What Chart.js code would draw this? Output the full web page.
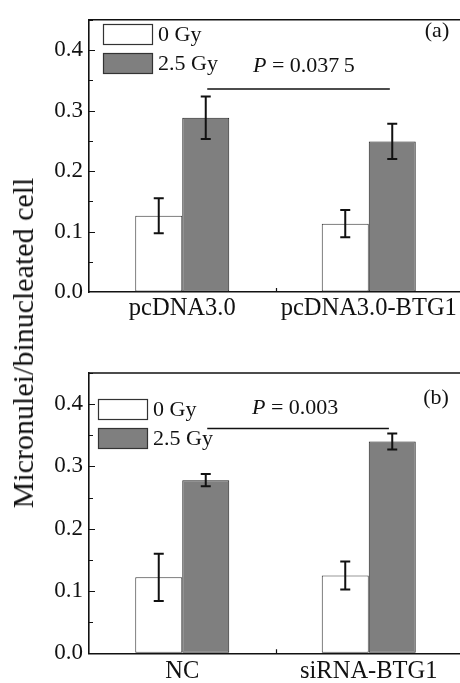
<!DOCTYPE html>
<html>
<head>
<meta charset="utf-8">
<script src="https://cdn.jsdelivr.net/npm/chart.js@4.4.1/dist/chart.umd.min.js"></script>
<style>
html, body { margin:0; padding:0; background:#fff; width:460px; height:683px; overflow:hidden; }
#wrap { position:relative; width:460px; height:683px; overflow:hidden; }
#ca { position:absolute; left:0; top:0; }
#cb { position:absolute; left:0; top:340px; }
#ytitle { position:absolute; left:23px; top:343px; transform:translate(-50%,-50%) rotate(-90deg);
  font-family:"Liberation Serif","Times New Roman",serif; font-size:30px; color:#111; white-space:nowrap; line-height:1; }
</style>
</head>
<body>
<div id="wrap">
  <canvas id="ca" width="462" height="340"></canvas>
  <canvas id="cb" width="462" height="343"></canvas>
  <div id="ytitle">Micronulei/binucleated cell</div>
</div>
<script>
// ---- data ----
const categoriesA = ['pcDNA3.0', 'pcDNA3.0-BTG1'];
const categoriesB = ['NC', 'siRNA-BTG1'];
const seriesLabels = ['0 Gy', '2.5 Gy'];
const a0Gy = [0.126, 0.113];
const a0GyErr = [0.029, 0.0225];
const a25Gy = [0.288, 0.249];
const a25GyErr = [0.035, 0.029];
const b0Gy = [0.122, 0.125];
const b0GyErr = [0.038, 0.0225];
const b25Gy = [0.278, 0.340];
const b25GyErr = [0.010, 0.013];
const yTickValues = [0, 0.1, 0.2, 0.3, 0.4];
const pValueA = '0.037\u20095';
const pValueB = '0.003';
const panelLabelA = '(a)';
const panelLabelB = '(b)';

const FONT = '"Liberation Serif", "Times New Roman", serif';
const INK = '#111';

const overlay = {
  id: 'overlay',
  afterDatasetsDraw(chart, args, opts) {
    const ctx = chart.ctx;
    const y = chart.scales.y;
    ctx.save();
    ctx.strokeStyle = INK;
    ctx.lineWidth = 2;
    chart.data.datasets.forEach((ds, di) => {
      const meta = chart.getDatasetMeta(di);
      meta.data.forEach((bar, i) => {
        const v = ds.data[i], e = ds.err[i];
        const yt = y.getPixelForValue(v + e), yb = y.getPixelForValue(v - e);
        ctx.beginPath();
        ctx.moveTo(bar.x, yt); ctx.lineTo(bar.x, yb);
        ctx.moveTo(bar.x - 5, yt); ctx.lineTo(bar.x + 5, yt);
        ctx.moveTo(bar.x - 5, yb); ctx.lineTo(bar.x + 5, yb);
        ctx.stroke();
      });
    });
    ctx.restore();
  },
  afterDraw(chart, args, opts) {
    const ctx = chart.ctx;
    const a = chart.chartArea;
    const x = chart.scales.x, y = chart.scales.y;
    ctx.save();
    // top frame
    ctx.strokeStyle = INK;
    ctx.lineWidth = 1.6;
    ctx.beginPath();
    ctx.moveTo(a.left, a.top); ctx.lineTo(a.right + 2, a.top);
    ctx.stroke();
    // inner ticks on y
    ctx.lineWidth = 1.2;
    ctx.beginPath();
    for (let k = 1; k <= 9; k++) {
      const v = k * 0.05;
      const py = Math.round(y.getPixelForValue(v)) + 0.5;
      const len = (k % 2 === 0) ? 6 : 4;
      ctx.moveTo(a.left, py); ctx.lineTo(a.left + len, py);
    }
    // x tick between groups
    const mx = Math.round(x.getPixelForValue(0.5)) + 0.5;
    ctx.moveTo(mx, a.bottom); ctx.lineTo(mx, a.bottom - 4);
    ctx.stroke();
    // significance line
    const s = opts.sig;
    ctx.lineWidth = 1.5;
    ctx.beginPath();
    const sy = y.getPixelForValue(s.y);
    ctx.moveTo(x.getPixelForValue(s.from), sy);
    ctx.lineTo(x.getPixelForValue(s.to), sy);
    ctx.stroke();
    // P text
    ctx.fillStyle = INK;
    ctx.textBaseline = 'middle';
    ctx.textAlign = 'left';
    ctx.font = 'italic 22px ' + FONT;
    ctx.fillText('P', s.tx, s.ty);
    const pw = ctx.measureText('P').width;
    ctx.font = '22px ' + FONT;
    ctx.fillText(' = ' + s.text, s.tx + pw, s.ty);
    // panel label
    ctx.textAlign = 'center';
    ctx.fillText(opts.panel.text, opts.panel.x, opts.panel.y);
    // legend
    const L = opts.legend;
    chart.data.datasets.forEach((ds, di) => {
      const by = L.y + di * L.step;
      ctx.fillStyle = ds.backgroundColor;
      ctx.fillRect(L.x, by, L.w, L.h);
      ctx.strokeStyle = '#333';
      ctx.lineWidth = 1.2;
      ctx.strokeRect(L.x + 0.5, by + 0.5, L.w, L.h);
      ctx.fillStyle = INK;
      ctx.textAlign = 'left';
      ctx.font = '22px ' + FONT;
      ctx.fillText(ds.label, L.x + L.w + 6, by + L.h / 2 + 1);
    });
    ctx.restore();
  }
};

function makeChart(id, labels, d0, e0, d25, e25, extra) {
  return new Chart(document.getElementById(id), {
    type: 'bar',
    data: {
      labels: labels,
      datasets: [
        { label: seriesLabels[0], data: d0, err: e0, backgroundColor: '#ffffff', borderColor: '#333', borderWidth: 1, borderSkipped: false },
        { label: seriesLabels[1], data: d25, err: e25, backgroundColor: '#7f7f7f', borderColor: '#222', borderWidth: 1, borderSkipped: false }
      ]
    },
    options: {
      responsive: false,
      animation: false,
      events: [],
      layout: { padding: { top: extra.top, left: 0, right: 0, bottom: 0 } },
      datasets: { bar: { categoryPercentage: 0.504, barPercentage: 1 } },
      plugins: {
        legend: { display: false },
        tooltip: { enabled: false },
        overlay: extra
      },
      scales: {
        x: {
          offset: true,
          grid: { display: true, drawOnChartArea: false, drawTicks: false },
          border: { display: true, color: INK, width: 1.6 },
          ticks: { color: INK, font: { family: FONT, size: 24.5 }, padding: extra.xpad, maxRotation: 0, autoSkip: false },
          afterFit(scale) { scale.height = extra.xh; }
        },
        y: {
          min: 0, max: 0.45,
          grid: { display: true, drawOnChartArea: false, drawTicks: false },
          border: { display: true, color: INK, width: 1.6 },
          afterBuildTicks(scale) { scale.ticks = yTickValues.map(v => ({ value: v })); },
          ticks: { color: INK, font: { family: FONT, size: 23 }, padding: 6, callback: v => Number(v).toFixed(1) },
          afterFit(scale) { scale.width = 89; }
        }
      }
    },
    plugins: [overlay]
  });
}

makeChart('ca', categoriesA, a0Gy, a0GyErr, a25Gy, a25GyErr, {
  top: 11, xh: 48, xpad: 2,
  sig: { from: 0.134, to: 1.113, y: 0.3355, text: pValueA, tx: 253, ty: 66 },
  panel: { text: panelLabelA, x: 437, y: 31 },
  legend: { x: 103, y: 24, w: 49, h: 20, step: 29 }
});
makeChart('cb', categoriesB, b0Gy, b0GyErr, b25Gy, b25GyErr, {
  top: 33, xh: 29.7, xpad: 4,
  sig: { from: 0.134, to: 1.108, y: 0.361, text: pValueB, tx: 252, ty: 68 },
  panel: { text: panelLabelB, x: 436, y: 58 },
  legend: { x: 98, y: 59, w: 49, h: 20, step: 29 }
});
</script>
</body>
</html>
